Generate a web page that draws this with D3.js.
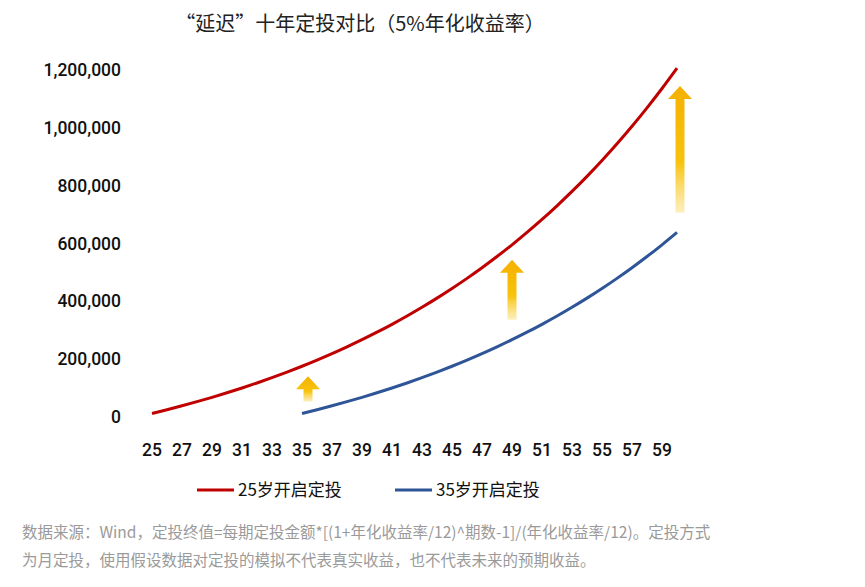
<!DOCTYPE html>
<html><head><meta charset="utf-8">
<script src="https://cdn.jsdelivr.net/npm/d3@7"></script>
<style>body{margin:0;background:#fff;font-family:"Noto Sans CJK SC","Noto Sans",sans-serif}</style>
</head><body><svg id="c" width="865" height="587"></svg>
<script>
const ages = d3.range(25, 61);
const tickAges = [25,27,29,31,33,35,37,39,41,43,45,47,49,51,53,55,57,59];
const series25 = [12279,25186,38753,53015,68006,83764,100329,117740,136043,155282,175506,196764,219109,242598,267289,293243,320525,349203,379347,411034,444343,479355,516159,554846,595513,638260,683195,730428,780078,832268,887128,944794,1005411,1069130,1136109,1206514];
const ages35 = d3.range(35, 61);
const series35 = [12279,25186,38753,53015,68006,83764,100329,117740,136043,155282,175506,196764,219109,242598,267289,293243,320525,349203,379347,411034,444343,479355,516159,554846,595513,638260];
const yTicks = [0,200000,400000,600000,800000,1000000,1200000];
const arrowAges = [35,49,60];
const seriesNames = ["25岁开启定投","35岁开启定投"];
const colors = ["#c00000","#2e5597"];

const svg = d3.select("#c");
const x = d3.scaleLinear().domain([25,60]).range([152,677]);
const y = d3.scaleLinear().domain([0,1200000]).range([417,70]);

svg.append("text").attr("x",360).attr("y",31).attr("text-anchor","middle")
  .attr("font-size",20).attr("fill","#222").text("“延迟”十年定投对比（5%年化收益率）");

const fmt = d3.format(",");
svg.append("g").selectAll("text").data(yTicks).join("text")
  .attr("x",121).attr("y",d=>y(d)+6).attr("text-anchor","end").attr("font-weight",500)
  .attr("font-size",17.5).attr("font-family","Roboto, Noto Sans, sans-serif").attr("fill","#111").text(fmt);
svg.append("g").selectAll("text").data(tickAges).join("text")
  .attr("x",d=>x(d)).attr("y",456).attr("text-anchor","middle").attr("font-weight",500)
  .attr("font-size",17.5).attr("font-family","Roboto, Noto Sans, sans-serif").attr("fill","#111").text(d=>d);

const defs = svg.append("defs");
const gr = defs.append("linearGradient").attr("id","ag").attr("x1",0).attr("y1",1).attr("x2",0).attr("y2",0);
gr.append("stop").attr("offset","0").attr("stop-color","#f9d040").attr("stop-opacity",0.35);
gr.append("stop").attr("offset","0.4").attr("stop-color","#f7c000").attr("stop-opacity",0.95);
gr.append("stop").attr("offset","1").attr("stop-color","#f5b000");
arrowAges.forEach(a=>{
  const i = ages.indexOf(a), j = ages35.indexOf(a);
  const cx = x(a) + (a===60?3:(a===35?6:0));
  const yb = y(series35[j]) - (a===35?12:20);
  const yt = y(series25[i]) + (a===60?18:(a===35?10:15));
  const hw=4.5, hh=13, hwid=12;
  const p = `M${cx-hw},${yb} L${cx-hw},${yt+hh} L${cx-hwid},${yt+hh} L${cx},${yt} L${cx+hwid},${yt+hh} L${cx+hw},${yt+hh} L${cx+hw},${yb} Z`;
  svg.append("path").attr("d",p).attr("fill","url(#ag)");
});

const line = d3.line().x(d=>x(d[0])).y(d=>y(d[1])).curve(d3.curveMonotoneX);
svg.append("path").attr("d",line(ages.map((a,i)=>[a,series25[i]]))).attr("fill","none").attr("stroke",colors[0]).attr("stroke-width",3);
svg.append("path").attr("d",line(ages35.map((a,i)=>[a,series35[i]]))).attr("fill","none").attr("stroke",colors[1]).attr("stroke-width",3);

[[197,0],[395,1]].forEach(([lx,k])=>{
  svg.append("line").attr("x1",lx).attr("x2",lx+37).attr("y1",490).attr("y2",490).attr("stroke",colors[k]).attr("stroke-width",3);
  svg.append("text").attr("x",lx+41).attr("y",496).attr("font-size",17).attr("fill","#111").text(seriesNames[k]);
});

svg.append("text").attr("x",22).attr("y",538).attr("font-size",15.5).attr("fill","#9a9a9a")
  .text("数据来源：Wind，定投终值=每期定投金额*[(1+年化收益率/12)^期数-1]/(年化收益率/12)。定投方式");
svg.append("text").attr("x",22).attr("y",566).attr("font-size",15.5).attr("fill","#9a9a9a")
  .text("为月定投，使用假设数据对定投的模拟不代表真实收益，也不代表未来的预期收益。");
</script></body></html>
